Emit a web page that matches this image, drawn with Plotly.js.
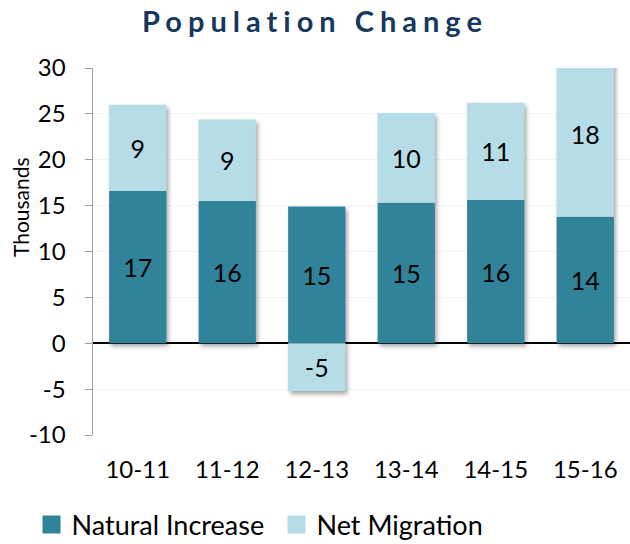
<!DOCTYPE html>
<html>
<head>
<meta charset="utf-8">
<script src="https://cdn.plot.ly/plotly-3.0.1.min.js"></script>
<style>
  body { margin: 0; background: #fff; }
  #chart { width: 630px; height: 544px; }
  .gtitle { letter-spacing: 6px; }
  .barlayer { filter: drop-shadow(2px 3px 2px rgba(0,0,0,0.35)); }
  .legendpoints path { transform: translate(20px, 0px) scale(1.5); }
</style>
</head>
<body>
<div id="chart"></div>
<script>
const categories = ["10-11", "11-12", "12-13", "13-14", "14-15", "15-16"];
const naturalIncrease = [16.6, 15.5, 14.9, 15.3, 15.6, 13.8];
const netMigration = [9.4, 8.9, -5.2, 9.8, 10.6, 18.0];
const seriesNames = ["Natural Increase", "Net Migration"];
const yTicks = [-10, -5, 0, 5, 10, 15, 20, 25, 30];

const fontFam = "'Lato', 'DejaVu Sans', sans-serif";

const base = {
  type: "bar",
  x: categories,
  texttemplate: "%{y:.0f}",
  textposition: "inside",
  insidetextanchor: "middle",
  textangle: 0,
  insidetextfont: { family: fontFam, size: 25, color: "#000" },
  hoverinfo: "skip"
};

const traces = [
  Object.assign({}, base, {
    name: seriesNames[0],
    y: naturalIncrease,
    marker: { color: "#31839A", line: { width: 0 } }
  }),
  Object.assign({}, base, {
    name: seriesNames[1],
    y: netMigration,
    marker: { color: "#B6DCE7", line: { width: 0 } }
  })
];

const layout = {
  width: 630,
  height: 544,
  barmode: "relative",
  bargap: 0.36,
  paper_bgcolor: "#fff",
  plot_bgcolor: "#fff",
  margin: { l: 93, r: 0, t: 68, b: 109 },
  font: { family: fontFam, color: "#000" },
  title: {
    text: "<b>Population Change</b>",
    font: { family: fontFam, size: 29, color: "#17375E" },
    x: 0.5, xanchor: "center",
    y: 0.96, yanchor: "middle"
  },
  xaxis: {
    type: "category",
    automargin: false,
    showline: false,
    showgrid: false,
    ticks: "",
    tickfont: { family: fontFam, size: 24, color: "#000" },
    ticklabelstandoff: 18
  },
  yaxis: {
    range: [-10, 30],
    automargin: false,
    tickvals: yTicks,
    ticktext: yTicks.map(String),
    showline: true,
    linecolor: "#a0a0a0",
    linewidth: 1.5,
    ticks: "outside",
    ticklen: 7,
    tickcolor: "#a0a0a0",
    ticklabelstandoff: 14,
    showgrid: true,
    gridcolor: "#f3f3f3",
    zeroline: true,
    zerolinecolor: "#000",
    zerolinewidth: 2,
    tickfont: { family: fontFam, size: 24, color: "#000" }
  },
  annotations: [{
    text: "Thousands",
    textangle: -90,
    xref: "paper", yref: "paper",
    x: -0.136, y: 0.621,
    xanchor: "center", yanchor: "middle",
    showarrow: false,
    font: { family: fontFam, size: 21, color: "#000" }
  }],
  legend: {
    orientation: "h",
    xref: "container",
    x: 0.05, xanchor: "left",
    yref: "container",
    y: 0.035, yanchor: "middle",
    font: { family: fontFam, size: 27, color: "#000" },
    traceorder: "normal",
    itemwidth: 30,
    entrywidth: 200
  },
  showlegend: true
};

Plotly.newPlot("chart", traces, layout, { displayModeBar: false, staticPlot: true }).then(function (gd) {
  const plotGroup = gd.querySelector(".barlayer").parentNode;
  const textLayer = document.createElementNS("http://www.w3.org/2000/svg", "g");
  textLayer.setAttribute("class", "bartextlayer");
  plotGroup.appendChild(textLayer);
  gd.querySelectorAll(".barlayer .point text").forEach(function (t) {
    textLayer.appendChild(t);
  });
});
</script>
</body>
</html>
